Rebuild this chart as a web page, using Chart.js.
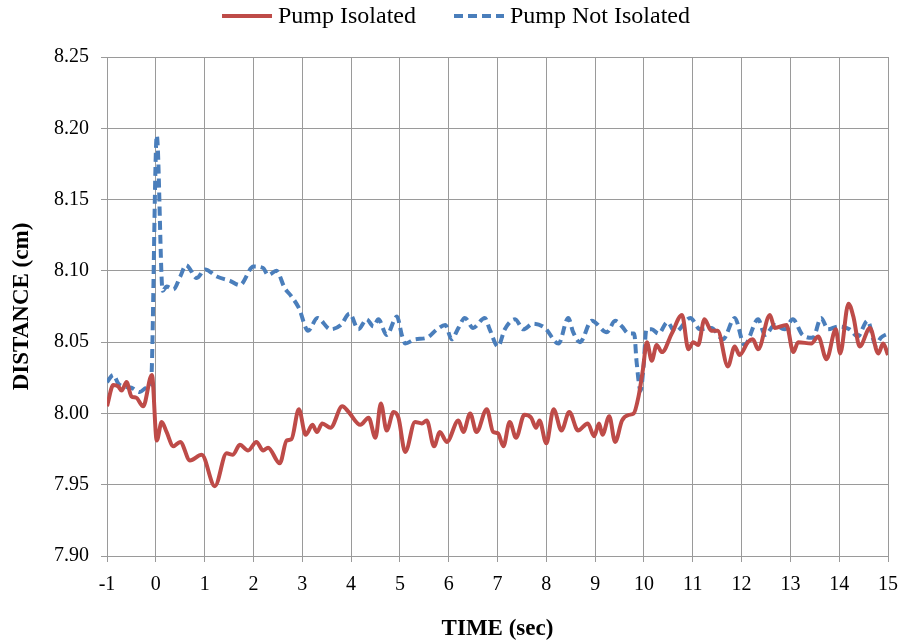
<!DOCTYPE html>
<html>
<head>
<meta charset="utf-8">
<script src="https://cdn.jsdelivr.net/npm/chart.js@4/dist/chart.umd.min.js"></script>
<style>
  html, body { margin: 0; padding: 0; background: #ffffff; }
  #wrap { width: 899px; height: 643px; }
</style>
</head>
<body>
<div id="wrap"><canvas id="c" width="899" height="643"></canvas></div>
<script>
// Gap distance over time, pump isolated (solid) vs pump not isolated (dashed)
const isolatedTime = [
  -1.00, -0.87, -0.77, -0.70, -0.60, -0.50, -0.40, -0.26, -0.08, 0.02,
  0.12, 0.22, 0.36, 0.50, 0.70, 0.94, 1.21, 1.45, 1.58, 1.72,
  1.89, 2.06, 2.20, 2.30, 2.54, 2.68, 2.78, 2.93, 3.07, 3.21,
  3.30, 3.41, 3.58, 3.82, 3.95, 4.19, 4.36, 4.50, 4.61, 4.73,
  4.87, 4.97, 5.11, 5.31, 5.45, 5.55, 5.70, 5.82, 5.96, 6.20,
  6.30, 6.44, 6.57, 6.78, 6.91, 7.01, 7.12, 7.25, 7.38, 7.55,
  7.69, 7.79, 7.86, 8.00, 8.15, 8.31, 8.47, 8.65, 8.85, 8.98,
  9.08, 9.15, 9.29, 9.41, 9.55, 9.69, 9.79, 9.89, 9.98, 10.06,
  10.16, 10.26, 10.37, 10.57, 10.78, 10.91, 11.01, 11.11, 11.24, 11.38,
  11.51, 11.72, 11.86, 11.96, 12.13, 12.23, 12.34, 12.58, 12.68, 12.92,
  13.06, 13.16, 13.43, 13.57, 13.74, 13.93, 14.02, 14.19, 14.29, 14.42,
  14.63, 14.80, 14.90, 15.00
];
const isolatedDist = [
  8.005, 8.020, 8.019, 8.016, 8.022, 8.012, 8.011, 8.005, 8.027, 7.981,
  7.994, 7.987, 7.977, 7.980, 7.967, 7.971, 7.949, 7.972, 7.971, 7.978,
  7.974, 7.980, 7.974, 7.976, 7.965, 7.981, 7.982, 8.003, 7.985, 7.992,
  7.987, 7.993, 7.990, 8.005, 8.001, 7.992, 7.997, 7.983, 8.007, 7.988,
  8.001, 7.997, 7.973, 7.994, 7.993, 7.995, 7.977, 7.987, 7.980, 7.995,
  7.987, 8.000, 7.987, 8.003, 7.987, 7.986, 7.977, 7.994, 7.983, 7.999,
  7.997, 7.990, 7.995, 7.979, 8.003, 7.988, 8.001, 7.988, 7.993, 7.984,
  7.993, 7.985, 7.998, 7.980, 7.995, 7.999, 8.000, 8.012, 8.031, 8.050,
  8.037, 8.048, 8.043, 8.056, 8.069, 8.045, 8.050, 8.048, 8.066, 8.058,
  8.058, 8.033, 8.047, 8.041, 8.050, 8.052, 8.045, 8.069, 8.060, 8.062,
  8.043, 8.050, 8.049, 8.054, 8.038, 8.059, 8.042, 8.077, 8.068, 8.047,
  8.060, 8.042, 8.049, 8.041
];

const notIsolatedTime = [
  -1.00, -0.87, -0.77, -0.68, -0.50, -0.33, -0.19, -0.10, 0.02, 0.14,
  0.22, 0.36, 0.50, 0.62, 0.84, 1.01, 1.25, 1.52, 1.72, 2.00,
  2.20, 2.30, 2.47, 2.64, 2.78, 2.93, 3.12, 3.31, 3.58, 3.79,
  3.97, 4.15, 4.32, 4.46, 4.56, 4.73, 4.94, 5.04, 5.11, 5.31,
  5.55, 5.76, 5.93, 6.06, 6.20, 6.33, 6.50, 6.74, 6.84, 7.01,
  7.15, 7.36, 7.53, 7.73, 7.97, 8.25, 8.45, 8.55, 8.69, 8.93,
  9.24, 9.41, 9.55, 9.69, 9.80, 9.85, 9.93, 9.99, 10.05, 10.16,
  10.30, 10.48, 10.64, 10.95, 11.15, 11.38, 11.62, 11.86, 12.06, 12.34,
  12.48, 12.68, 12.88, 13.05, 13.25, 13.46, 13.63, 13.77, 13.98, 14.21,
  14.38, 14.58, 14.75, 14.85, 15.00
];
const notIsolatedDist = [
  8.022, 8.027, 8.021, 8.019, 8.018, 8.015, 8.018, 8.020, 8.195, 8.086,
  8.089, 8.087, 8.096, 8.104, 8.095, 8.101, 8.096, 8.093, 8.090, 8.103,
  8.102, 8.097, 8.100, 8.088, 8.082, 8.074, 8.058, 8.067, 8.059, 8.062,
  8.070, 8.059, 8.066, 8.061, 8.066, 8.055, 8.068, 8.055, 8.049, 8.052,
  8.053, 8.059, 8.062, 8.052, 8.060, 8.067, 8.060, 8.067, 8.059, 8.047,
  8.059, 8.066, 8.059, 8.063, 8.060, 8.049, 8.067, 8.057, 8.050, 8.065,
  8.057, 8.065, 8.061, 8.056, 8.056, 8.036, 8.016, 8.032, 8.059, 8.059,
  8.056, 8.064, 8.057, 8.067, 8.059, 8.060, 8.052, 8.067, 8.048, 8.066,
  8.055, 8.062, 8.059, 8.066, 8.055, 8.053, 8.067, 8.059, 8.061, 8.059,
  8.054, 8.065, 8.048, 8.053, 8.056
];

const seriesNames = ['Pump Isolated', 'Pump Not Isolated'];
const xTitle = 'TIME (sec)';
const yTitle = 'DISTANCE (cm)';

const toPoints = (xs, ys) => xs.map((x, i) => ({ x: x, y: ys[i] }));

const serif = "'Liberation Serif', 'Times New Roman', serif";
const gridColor = '#9a9a9a';

// Series key across the top: a line sample (solid or dashed) followed by its label
const seriesKey = {
  id: 'seriesKey',
  afterDraw(chart) {
    const ctx = chart.ctx;
    const sampleLen = 50, textGap = 6, itemGap = 38, centreX = 456, y = 16;
    ctx.save();
    ctx.font = '24px ' + serif;
    ctx.textBaseline = 'middle';
    ctx.textAlign = 'left';
    const items = chart.data.datasets.map(ds => ({
      label: ds.label,
      color: ds.borderColor,
      width: ds.borderWidth,
      dash: ds.borderDash || [],
      textW: ctx.measureText(ds.label).width
    }));
    const total = items.reduce((s, it) => s + sampleLen + textGap + it.textW, 0) + itemGap * (items.length - 1);
    let x = centreX - total / 2;
    items.forEach(it => {
      ctx.beginPath();
      ctx.setLineDash(it.dash);
      ctx.lineWidth = it.width;
      ctx.strokeStyle = it.color;
      ctx.moveTo(x, y);
      ctx.lineTo(x + sampleLen, y);
      ctx.stroke();
      ctx.setLineDash([]);
      x += sampleLen + textGap;
      ctx.fillStyle = '#000';
      ctx.fillText(it.label, x, y + 1);
      x += it.textW + itemGap;
    });
    ctx.restore();
  }
};

new Chart(document.getElementById('c'), {
  type: 'line',
  data: {
    datasets: [
      {
        label: seriesNames[0],
        data: toPoints(isolatedTime, isolatedDist),
        borderColor: '#BE4B48',
        backgroundColor: '#BE4B48',
        borderWidth: 4,
        pointRadius: 0,
        cubicInterpolationMode: 'monotone',
        fill: false
      },
      {
        label: seriesNames[1],
        data: toPoints(notIsolatedTime, notIsolatedDist),
        borderColor: '#4A7EBB',
        backgroundColor: '#4A7EBB',
        borderWidth: 4,
        borderDash: [9, 5],
        pointRadius: 0,
        cubicInterpolationMode: 'monotone',
        fill: false
      }
    ]
  },
  options: {
    responsive: false,
    animation: false,
    layout: { padding: { left: 0, right: 0, top: 57, bottom: 0 } },
    plugins: {
      tooltip: { enabled: false },
      legend: { display: false }
    },
    scales: {
      x: {
        type: 'linear',
        min: -1,
        max: 15,
        ticks: {
          stepSize: 1,
          color: '#000',
          font: { family: serif, size: 20 },
          padding: 11,
          maxRotation: 0
        },
        grid: { color: gridColor, lineWidth: 1, tickLength: 6 },
        border: { color: gridColor },
        title: {
          display: true,
          text: xTitle,
          color: '#000',
          font: { family: serif, size: 23, weight: 'bold' },
          padding: { top: 0, bottom: 0 }
        },
        afterFit(scale) {
          scale.height = 87;
          // only the half-width of the end label needs room on the right
          scale.paddingLeft = 0;
          scale.paddingRight = 11;
        }
      },
      y: {
        min: 7.90,
        max: 8.25,
        ticks: {
          stepSize: 0.05,
          color: '#000',
          font: { family: serif, size: 20 },
          padding: 12,
          callback: (v) => Number(v).toFixed(2)
        },
        grid: { color: gridColor, lineWidth: 1, tickLength: 6 },
        border: { color: gridColor },
        title: {
          display: true,
          text: yTitle,
          color: '#000',
          font: { family: serif, size: 23, weight: 'bold' },
          padding: { top: 8, bottom: 0 }
        },
        afterFit(scale) { scale.width = 107; }
      }
    }
  },
  plugins: [seriesKey]
});
</script>
</body>
</html>
